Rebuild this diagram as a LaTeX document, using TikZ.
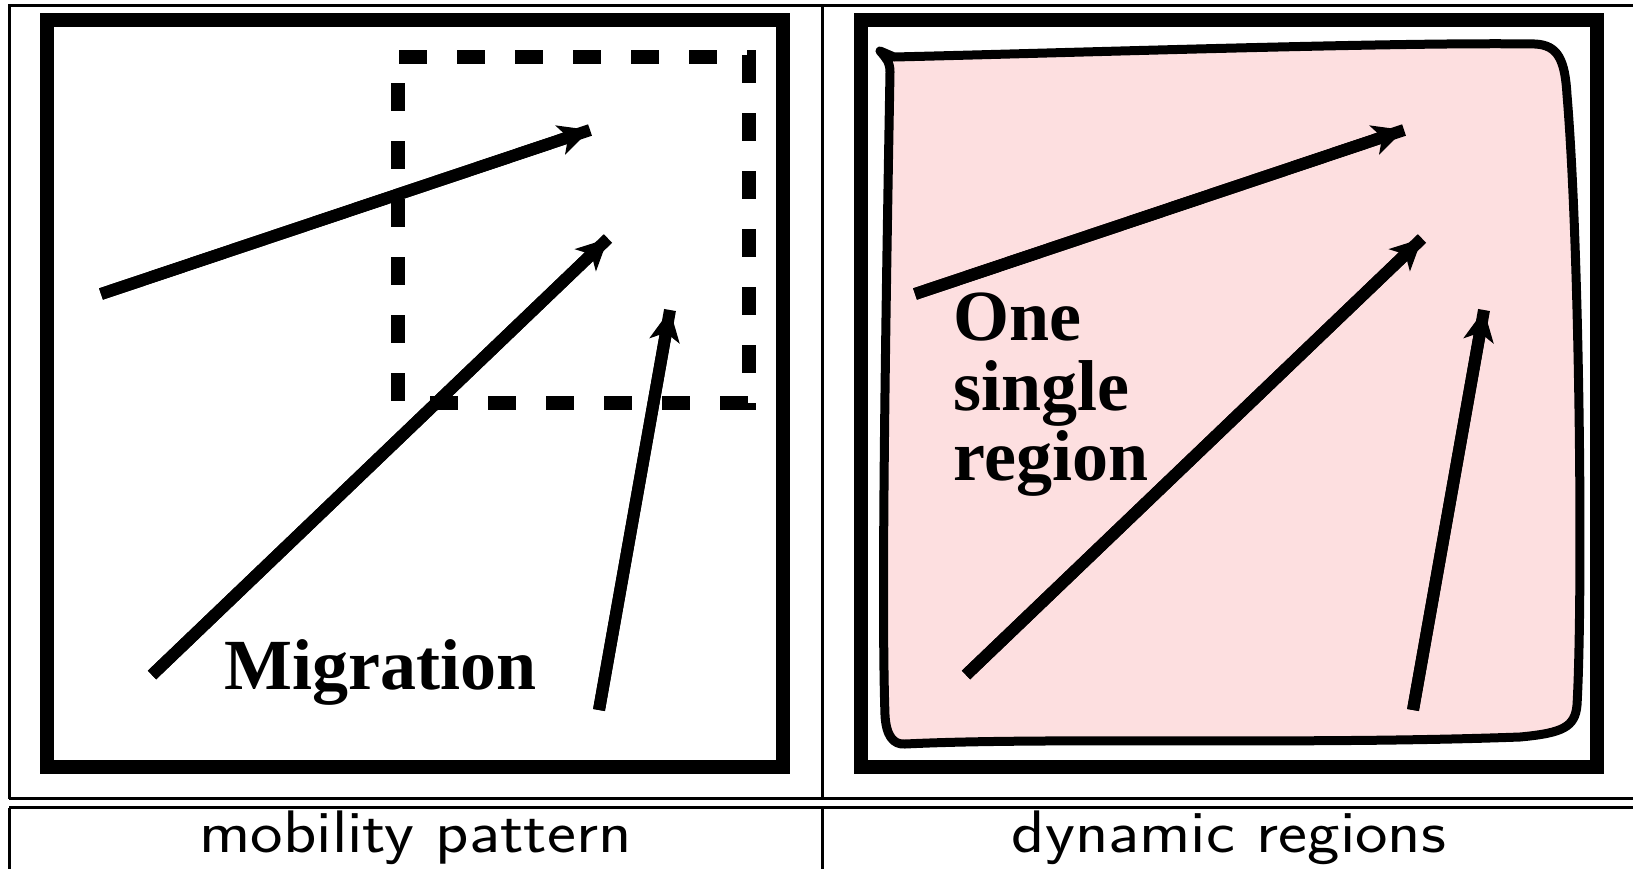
\documentclass[tikz,border=0pt]{standalone}
\usepackage{fontspec}
\usepackage{graphicx}
\newfontfamily\figserif{Liberation Serif}
\usetikzlibrary{arrows.meta}
\definecolor{regionpink}{RGB}{253,223,224}
\tikzset{
  frame/.style={draw=black, line width=7pt},
  tabline/.style={draw=black, line width=1.5pt},
  move/.style={draw=black, line width=6pt, line cap=butt},
  movetip/.style={move, -{Stealth[length=15.5pt,width=15pt,inset=4pt]}},
  zone/.style={draw=black, line width=7pt, dash pattern=on 14pt off 15pt},
  region/.style={draw=black, fill=regionpink, line width=4.5pt, line join=round},
  biglabel/.style={font=\figserif\bfseries\fontsize{36}{35}\selectfont, inner sep=0pt, anchor=base west},
  caption/.style={font=\sffamily\fontsize{30}{36}\selectfont, inner sep=0pt, anchor=base},
}
\begin{document}
\begin{tikzpicture}[x=0.5pt,y=-0.5pt]
\useasboundingbox (0,0) rectangle (1633,869);
\fill[white] (0,0) rectangle (1633,869);
% table rules
\draw[tabline] (9,798.5) -- (9,5.5) -- (1633,5.5);
\draw[tabline] (822.5,5.5) -- (822.5,798.5);
\draw[tabline] (9,798.5) -- (1633,798.5);
\draw[tabline] (9,807.5) -- (1633,807.5);
\draw[tabline] (9,807.5) -- (9,869);
\draw[tabline] (822.5,807.5) -- (822.5,869);
% left panel
\draw[frame] (47,20) rectangle (783,767);
\coordinate (l1s) at (101,294);  \coordinate (l1e) at (590,130);
\coordinate (l2s) at (152,675);  \coordinate (l2e) at (608,238.5);
\coordinate (l3s) at (599,710);  \coordinate (l3e) at (670,310);
\foreach \s/\e in {l1s/l1e,l2s/l2e,l3s/l3e}{
  \draw[move] (\s) -- (\e);
  \draw[movetip] (\s) -- (\e);
}
% dashed zone, one side at a time
\draw[zone] (399,57) -- (756,57);
\draw[zone] (749,55) -- (749,410);
\draw[zone, dash phase=15pt] (398,55) -- (398,410);
\draw[zone, dash phase=15pt] (402,403) -- (756,403);
\node[biglabel] (mig) at (224,689.5) {Migration};
% right panel
\draw[frame] (861,20) rectangle (1597,767);
\draw[region] (880,51) -- (894,57)
  .. controls (1100,52) and (1400,42) .. (1535,44)
  .. controls (1558,45) and (1565,60) .. (1567,95)
  .. controls (1580,250) and (1583,600) .. (1577,705)
  .. controls (1575,727) and (1563,733) .. (1520,737)
  .. controls (1300,745) and (1050,737) .. (905,744)
  .. controls (893,745) and (886,735) .. (885,715)
  .. controls (881,600) and (886,300) .. (890,72)
  .. controls (890,62) and (886,58) .. cycle;
\coordinate (r1s) at (915,294);  \coordinate (r1e) at (1404,130);
\coordinate (r2s) at (966,675);  \coordinate (r2e) at (1422,238.5);
\coordinate (r3s) at (1413,710); \coordinate (r3e) at (1484,310);
\foreach \s/\e in {r1s/r1e,r2s/r2e,r3s/r3e}{
  \draw[move] (\s) -- (\e);
  \draw[movetip] (\s) -- (\e);
}
\node[biglabel, align=left] (one) at (953,480.6) {One\\single\\region};
% captions
\node[caption] (cap1) at (415.5,852) {\scalebox{1.15}[1]{mobility pattern}};
\node[caption] (cap2) at (1229,852) {\scalebox{1.15}[1]{dynamic regions}};
\end{tikzpicture}
\end{document}
